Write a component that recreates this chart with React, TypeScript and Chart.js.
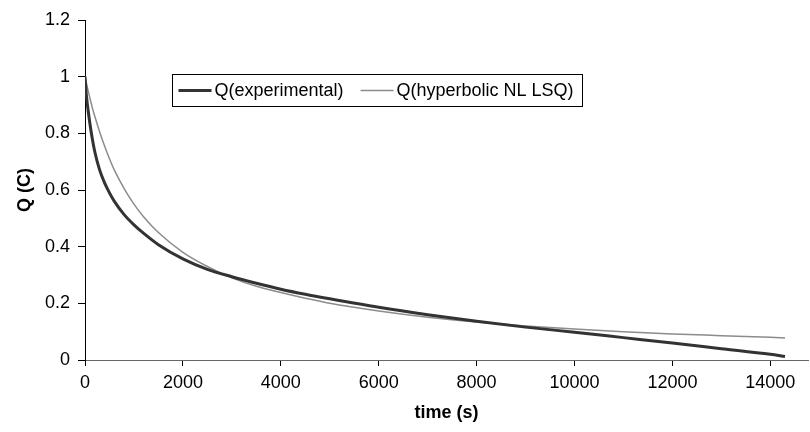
import React, { useEffect, useRef } from "react";
import { Chart, registerables } from "chart.js";

Chart.register(...registerables);

// time (s)
const timeS = [
  0, 25, 50, 100, 150, 200, 300, 400, 500, 600, 800, 1000, 1200, 1500, 2000,
  2500, 3000, 3500, 4000, 4500, 5000, 6000, 7000, 8000, 9000, 10000, 11000,
  12000, 13000, 14000, 14300,
];

// Q(experimental)
const qExperimental = [
  1.0, 0.94, 0.9, 0.835, 0.78, 0.735, 0.67, 0.625, 0.59, 0.56, 0.513, 0.477,
  0.447, 0.407, 0.357, 0.32, 0.294, 0.271, 0.25, 0.232, 0.216, 0.186, 0.16,
  0.137, 0.116, 0.098, 0.079, 0.06, 0.04, 0.02, 0.012,
];

// Q(hyperbolic NL LSQ)
const qHyperbolic = [
  1.0, 0.98, 0.96, 0.925, 0.89, 0.86, 0.805, 0.755, 0.71, 0.67, 0.605, 0.55,
  0.505, 0.45, 0.38, 0.33, 0.29, 0.26, 0.238, 0.218, 0.2, 0.173, 0.151, 0.134,
  0.12, 0.109, 0.1, 0.092, 0.086, 0.08, 0.078,
];

const seriesLabels = ["Q(experimental)", "Q(hyperbolic NL LSQ)"];
const xTickValues = [0, 2000, 4000, 6000, 8000, 10000, 12000, 14000];
const xTickLabels = ["0", "2000", "4000", "6000", "8000", "10000", "12000", "14000"];
const yTickValues = [0, 0.2, 0.4, 0.6, 0.8, 1, 1.2];
const yTickLabels = ["0", "0.2", "0.4", "0.6", "0.8", "1", "1.2"];
const xTitle = "time (s)";
const yTitle = "Q (C)";

const FONT = '"Liberation Sans", Arial, sans-serif';

const boxLegend = {
  id: "boxLegend",
  afterDraw(chart: any) {
    const ctx = chart.ctx as CanvasRenderingContext2D;
    ctx.save();
    ctx.font = `18px ${FONT}`;
    ctx.textBaseline = "middle";
    const x0 = 172.5;
    const y0 = 74.5;
    const h = 32;
    const cy = y0 + h / 2;
    const lineLen = 33;
    let x = x0 + 6;
    chart.data.datasets.forEach((ds: any, i: number) => {
      ctx.strokeStyle = ds.borderColor;
      ctx.lineWidth = ds.borderWidth;
      ctx.beginPath();
      ctx.moveTo(x, cy);
      ctx.lineTo(x + lineLen, cy);
      ctx.stroke();
      x += lineLen + 3;
      ctx.fillStyle = "#000";
      ctx.fillText(ds.label, x, cy + 1);
      x += ctx.measureText(ds.label).width;
      if (i < chart.data.datasets.length - 1) x += 17;
    });
    const w = x + 9 - x0;
    ctx.strokeStyle = "#000";
    ctx.lineWidth = 1;
    ctx.strokeRect(x0, y0, Math.round(w), h);
    ctx.restore();
  },
};

export default function App() {
  const ref = useRef<HTMLCanvasElement | null>(null);

  useEffect(() => {
    document.body.style.margin = "0";
    const canvas = ref.current;
    if (!canvas) return;
    const chart = new Chart(canvas, {
      type: "line",
      data: {
        datasets: [
          {
            label: seriesLabels[0],
            data: timeS.map((t, i) => ({ x: t, y: qExperimental[i] })),
            borderColor: "#333333",
            borderWidth: 3,
            pointRadius: 0,
            cubicInterpolationMode: "monotone",
            fill: false,
          },
          {
            label: seriesLabels[1],
            data: timeS.map((t, i) => ({ x: t, y: qHyperbolic[i] })),
            borderColor: "#8c8c8c",
            borderWidth: 1.5,
            pointRadius: 0,
            cubicInterpolationMode: "monotone",
            fill: false,
          },
        ],
      },
      options: {
        animation: false,
        responsive: false,
        maintainAspectRatio: false,
        layout: { padding: { top: 20, right: 2, left: 0, bottom: 0 } },
        plugins: {
          legend: { display: false },
          tooltip: { enabled: false },
        },
        scales: {
          x: {
            type: "linear",
            min: 0,
            max: 14770,
            afterBuildTicks: (scale: any) => {
              scale.ticks = xTickValues.map((v) => ({ value: v }));
            },
            afterFit: (scale: any) => {
              scale.height = 72;
            },
            ticks: {
              includeBounds: false,
              color: "#000",
              font: { family: FONT, size: 18 },
              padding: 6,
              maxRotation: 0,
              autoSkip: false,
              callback: (_v: any, i: number) => xTickLabels[i],
            },
            grid: {
              drawOnChartArea: false,
              drawTicks: true,
              tickLength: 6,
              color: "#000",
            },
            border: { display: true, color: "#666", width: 1 },
            title: {
              display: true,
              text: xTitle,
              color: "#000",
              font: { family: FONT, size: 18, weight: "bold" },
              padding: { top: 0, bottom: 8 },
            },
          },
          y: {
            type: "linear",
            min: 0,
            max: 1.2,
            afterBuildTicks: (scale: any) => {
              scale.ticks = yTickValues.map((v) => ({ value: v }));
            },
            afterFit: (scale: any) => {
              scale.width = 85;
            },
            ticks: {
              color: "#000",
              font: { family: FONT, size: 18 },
              padding: 8,
              autoSkip: false,
              callback: (_v: any, i: number) => yTickLabels[i],
            },
            grid: {
              drawOnChartArea: false,
              drawTicks: true,
              tickLength: 7,
              color: "#000",
            },
            border: { display: true, color: "#000", width: 1 },
            title: {
              display: true,
              text: yTitle,
              color: "#000",
              font: { family: FONT, size: 18, weight: "bold" },
              padding: { top: 14, bottom: 0 },
            },
          },
        },
      },
      plugins: [boxLegend],
    });
    return () => chart.destroy();
  }, []);

  return (
    <div style={{ position: "relative", width: 810, height: 432 }}>
      <canvas ref={ref} width={810} height={432} />
    </div>
  );
}
